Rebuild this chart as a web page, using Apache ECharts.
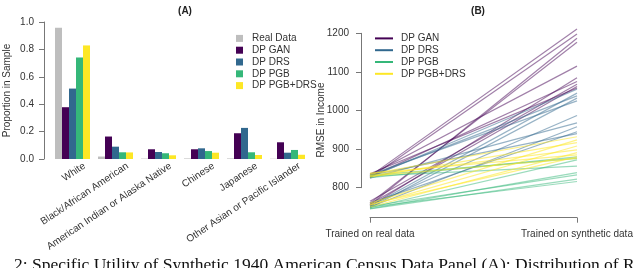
<!DOCTYPE html>
<html><head><meta charset="utf-8">
<script src="https://cdn.jsdelivr.net/npm/echarts@6/dist/echarts.min.js"></script>
<style>html,body{margin:0;padding:0;background:#fff}#c{width:640px;height:268px}</style>
</head><body><div id="c"></div>
<script>
// Panel A data
const categories = ['White','Black/African American','American Indian or Alaska Native','Chinese','Japanese','Other Asian or Pacific Islander'];
const realData = [0.958, 0.018, 0.003, 0.004, 0.004, 0.002];
const dpGan    = [0.378, 0.164, 0.071, 0.071, 0.188, 0.122];
const dpDrs    = [0.514, 0.090, 0.051, 0.078, 0.227, 0.046];
const dpPgb    = [0.741, 0.049, 0.042, 0.058, 0.049, 0.066];
const dpPgbDrs = [0.829, 0.048, 0.027, 0.046, 0.029, 0.031];
const yTicksA = [0, 0.2, 0.4, 0.6, 0.8, 1.0];

// Panel B data (RMSE in income)
const xCatsB = ['Trained on real data', 'Trained on synthetic data'];
const ganReal  = [830, 826, 755, 760, 833, 752, 828, 765, 758, 836];
const ganSynth = [1211, 1198, 1187, 1177, 1115, 1085, 1075, 1068, 1062, 1058];
const drsReal  = [827, 752, 830, 748, 834, 755, 825, 750, 760, 832];
const drsSynth = [1055, 1045, 1038, 1032, 1025, 987, 968, 958, 945, 940];
const pgbReal  = [826, 832, 748, 830, 746, 752, 745, 750];
const pgbSynth = [880, 876, 872, 856, 839, 833, 822, 816];
const pgbDrsReal  = [835, 760, 828, 755, 832, 750, 838, 757, 830];
const pgbDrsSynth = [932, 924, 917, 908, 898, 891, 885, 880, 876];

const caption = '2: Specific Utility of Synthetic 1940 American Census Data Panel (A): Distribution of R';

const FONT = 'Liberation Sans';
const AX = '#777';
const TX = '#333';

const barColors = ['#bebebe', '#440154', '#31688e', '#35b779', '#fde725'];
const barNames = ['Real Data', 'DP GAN', 'DP DRS', 'DP PGB', 'DP PGB+DRS'];
const barData = [realData, dpGan, dpDrs, dpPgb, dpPgbDrs];

const lineSets = [
  {name: 'DP GAN', color: 'rgba(68,1,84,0.5)', real: ganReal, synth: ganSynth},
  {name: 'DP DRS', color: 'rgba(49,104,142,0.5)', real: drsReal, synth: drsSynth},
  {name: 'DP PGB', color: 'rgba(53,183,121,0.5)', real: pgbReal, synth: pgbSynth},
  {name: 'DP PGB+DRS', color: 'rgba(253,231,37,0.55)', real: pgbDrsReal, synth: pgbDrsSynth}
];

const series = [];
barData.forEach((d, i) => {
  series.push({
    type: 'bar', name: barNames[i], xAxisIndex: 0, yAxisIndex: 0,
    data: d, barWidth: 7, barGap: '0%',
    itemStyle: {color: barColors[i]}, silent: true
  });
});
lineSets.forEach(s => {
  s.real.forEach((r, k) => {
    series.push({
      type: 'line', name: s.name, xAxisIndex: 1, yAxisIndex: 1,
      data: [r, s.synth[k]], symbol: 'none', clip: false,
      color: s.color,
      lineStyle: {width: 1.2, color: s.color}, silent: true
    });
  });
});

const chart = echarts.init(document.getElementById('c'), null, {renderer: 'canvas'});
chart.setOption({
  animation: false,
  backgroundColor: '#fff',
  textStyle: {fontFamily: FONT},
  title: [
    {text: '(A)', left: 180, top: 1, textAlign: 'center', textStyle: {fontFamily: FONT, fontSize: 10, fontWeight: 'bold', color: '#222'}},
    {text: '(B)', left: 473, top: 1, textAlign: 'center', textStyle: {fontFamily: FONT, fontSize: 10, fontWeight: 'bold', color: '#222'}}
  ],
  legend: [
    {
      data: barNames, orient: 'vertical', left: 231, top: 27.5,
      icon: 'rect', itemWidth: 7, itemHeight: 7, itemGap: 0,
      textStyle: {fontFamily: FONT, fontSize: 10, color: TX, lineHeight: 11.8, padding: [0, 0, 0, 4]},
      selectedMode: false
    },
    {
      data: lineSets.map(s => s.name), orient: 'vertical', left: 370, top: 27.5,
      icon: 'rect', itemWidth: 18, itemHeight: 2, itemGap: 0,
      textStyle: {fontFamily: FONT, fontSize: 10, color: TX, lineHeight: 11.8, padding: [0, 0, 0, 3]},
      selectedMode: false
    }
  ],
  grid: [
    {left: 51, top: 22, width: 258, height: 137},
    {left: 370, top: 33.3, width: 207, height: 154.4},
    {left: 63, top: 22, width: 258, height: 137}
  ],
  xAxis: [
    {type: 'category', gridIndex: 0, data: categories,
     axisLine: {show: false}, axisTick: {show: false}, axisLabel: {show: false}},
    {type: 'category', gridIndex: 1, data: xCatsB, boundaryGap: false, offset: 30,
     axisLine: {show: true, lineStyle: {color: AX, width: 1}},
     axisTick: {show: true, length: 5, lineStyle: {color: AX}},
     axisLabel: {fontFamily: FONT, fontSize: 10, color: TX, margin: 12},
     splitLine: {show: false}},
    {type: 'category', gridIndex: 2, data: categories,
     axisLine: {show: false}, axisTick: {show: false},
     axisLabel: {fontFamily: FONT, fontSize: 10, color: TX, rotate: 34, margin: 6, interval: 0}}
  ],
  yAxis: [
    {type: 'value', gridIndex: 0, min: 0, max: 1, interval: 0.2, offset: 7,
     name: 'Proportion in Sample', nameLocation: 'middle', nameGap: 32,
     nameTextStyle: {fontFamily: FONT, fontSize: 10, color: TX},
     axisLine: {show: true, lineStyle: {color: AX}},
     axisTick: {show: true, length: 5, lineStyle: {color: AX}},
     axisLabel: {fontFamily: FONT, fontSize: 10, color: TX, margin: 10, formatter: v => v.toFixed(1)},
     splitLine: {show: false}},
    {type: 'value', gridIndex: 1, min: 800, max: 1200, interval: 100, offset: 9,
     name: 'RMSE in Income', nameLocation: 'middle', nameGap: 35, nameMoveOverlap: false,
     nameTextStyle: {fontFamily: FONT, fontSize: 10, color: TX, padding: [0, 19, 0, 0]},
     axisLine: {show: true, lineStyle: {color: AX}},
     axisTick: {show: true, length: 5, lineStyle: {color: AX}},
     axisLabel: {fontFamily: FONT, fontSize: 10, color: TX, margin: 12, formatter: v => String(v)},
     splitLine: {show: false}},
    {type: 'value', gridIndex: 2, show: false, min: 0, max: 1}
  ],
  graphic: [
    {type: 'text', left: 14, top: 256, z: 100, style: {text: caption, font: '17.5px "Liberation Serif"', fill: '#111'}}
  ],
  series: series
});
</script></body></html>
